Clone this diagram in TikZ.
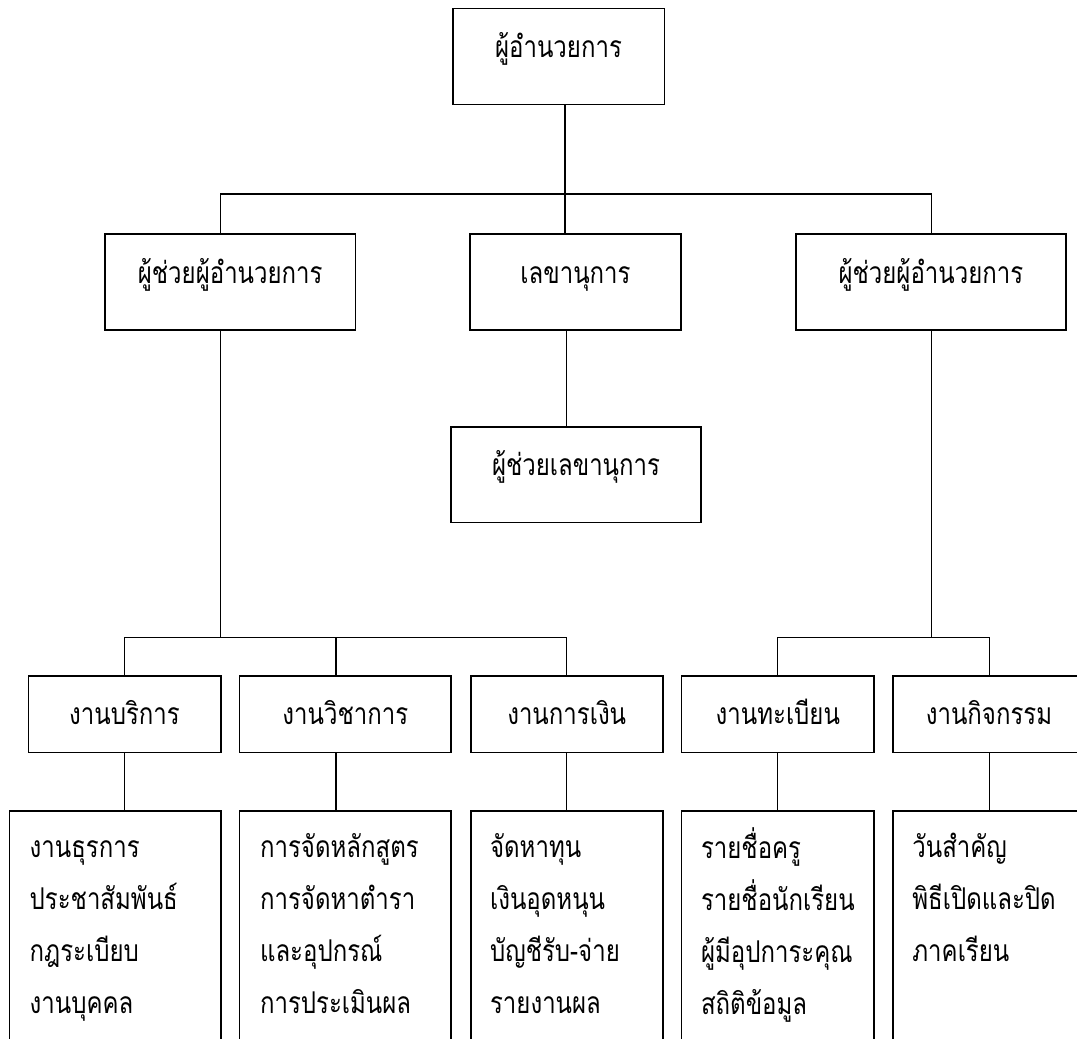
\documentclass[tikz,border=0pt]{standalone}
\usepackage{fontspec}
\newfontfamily\thai[Script=Thai,FakeStretch=0.8]{Loma}
\begin{document}
\begin{tikzpicture}[x=1pt,y=-1pt,
  box/.style={draw,line width=1.6pt,inner sep=0pt,text height=12pt,text depth=10pt,
    font=\thai\fontsize{30}{34}\selectfont},
  boxc/.style={box,text height=21pt,text depth=0pt},
  conn/.style={line width=1.3pt},
  lst/.style={anchor=north west,inner sep=0pt,align=left,
    font=\thai\fontsize{30}{52}\selectfont}]
\useasboundingbox (0,0) rectangle (1077,1039);
\clip (0,0) rectangle (1077,1039);
\fill[white] (0,0) rectangle (1077,1039);

% top level
\node[box,minimum width=211.6pt,minimum height=96pt] (dir) at (558.5,56.3) {ผู้อำนวยการ};
% second level
\node[box,minimum width=250.3pt,minimum height=96pt] (asl) at (230.2,282) {ผู้ช่วยผู้อำนวยการ};
\node[box,minimum width=211pt,minimum height=96pt] (sec) at (575.5,282) {เลขานุการ};
\node[box,minimum width=269.7pt,minimum height=96pt] (asr) at (930.9,282) {ผู้ช่วยผู้อำนวยการ};
\node[box,minimum width=250pt,minimum height=95.6pt] (ssec) at (576,474.5) {ผู้ช่วยเลขานุการ};
% third level
\node[boxc,minimum width=192.4pt,minimum height=76.7pt] (b1) at (124.5,714.3) {งานบริการ};
\node[boxc,minimum width=211.3pt,minimum height=76.7pt] (b2) at (345.3,714.3) {งานวิชาการ};
\node[boxc,minimum width=192pt,minimum height=76.7pt] (b3) at (566.7,714.3) {งานการเงิน};
\node[boxc,minimum width=192.3pt,minimum height=76.7pt] (b4) at (777.8,714.3) {งานทะเบียน};
\node[boxc,minimum width=192pt,minimum height=76.7pt] (b5) at (989,714.3) {งานกิจกรรม};
% fourth level (open at the bottom)
\node[box,minimum width=211.4pt,minimum height=249pt] (d1) at (115,935.5) {};
\node[box,minimum width=211.3pt,minimum height=249pt] (d2) at (345.3,935.5) {};
\node[box,minimum width=192pt,minimum height=249pt] (d3) at (566.7,935.5) {};
\node[box,minimum width=192.3pt,minimum height=249pt] (d4) at (777.8,935.5) {};
\node[box,minimum width=192pt,minimum height=249pt] (d5) at (989,935.5) {};

\node[lst] (t1) at ([xshift=21pt,yshift=-17pt]d1.north west) {\rule{0pt}{30pt}งานธุรการ\\ประชาสัมพันธ์\\กฎระเบียบ\\งานบุคคล};
\node[lst] (t2) at ([xshift=21pt,yshift=-17pt]d2.north west) {\rule{0pt}{30pt}การจัดหลักสูตร\\การจัดหาตำรา\\และอุปกรณ์\\การประเมินผล};
\node[lst] (t3) at ([xshift=20pt,yshift=-17pt]d3.north west) {\rule{0pt}{30pt}จัดหาทุน\\เงินอุดหนุน\\บัญชีรับ-จ่าย\\รายงานผล};
\node[lst] (t4) at ([xshift=20pt,yshift=-17pt]d4.north west) {\rule{0pt}{30pt}รายชื่อครู\\รายชื่อนักเรียน\\ผู้มีอุปการะคุณ\\สถิติข้อมูล};
\node[lst] (t5) at ([xshift=20pt,yshift=-17pt]d5.north west) {\rule{0pt}{30pt}วันสำคัญ\\พิธีเปิดและปิด\\ภาคเรียน};

% junction coordinates
\coordinate (jt) at (565,194);
\coordinate (jl) at (220.7,194);
\coordinate (jr) at (931.5,194);
\coordinate (ml) at (220.7,637.7);
\coordinate (mr) at (931.3,637.7);
\coordinate (x1) at (124.7,637.7);
\coordinate (x2) at (336,637.7);
\coordinate (x3) at (566.7,637.7);
\coordinate (x4) at (777.7,637.7);
\coordinate (x5) at (989.3,637.7);

% connectors
\draw[conn] (dir.south -| jt) -- (jt |- sec.north);
\draw[conn] (jl |- asl.north) -- (jl) -- (jr) -- (jr |- asr.north);
\draw[conn] (sec.south -| x3) -- (ssec.north -| x3);
\draw[conn] (asl.south -| ml) -- (ml);
\draw[conn] (asr.south -| mr) -- (mr);
\draw[conn] (x1 |- b1.north) -- (x1) -- (x3) -- (x3 |- b3.north);
\draw[conn] (x2) -- (x2 |- b2.north);
\draw[conn] (x4 |- b4.north) -- (x4) -- (x5) -- (x5 |- b5.north);
\draw[conn] (b1.south -| x1) -- (d1.north -| x1);
\draw[conn] (b2.south -| x2) -- (d2.north -| x2);
\draw[conn] (b3.south -| x3) -- (d3.north -| x3);
\draw[conn] (b4.south -| x4) -- (d4.north -| x4);
\draw[conn] (b5.south -| x5) -- (d5.north -| x5);
\end{tikzpicture}
\end{document}
